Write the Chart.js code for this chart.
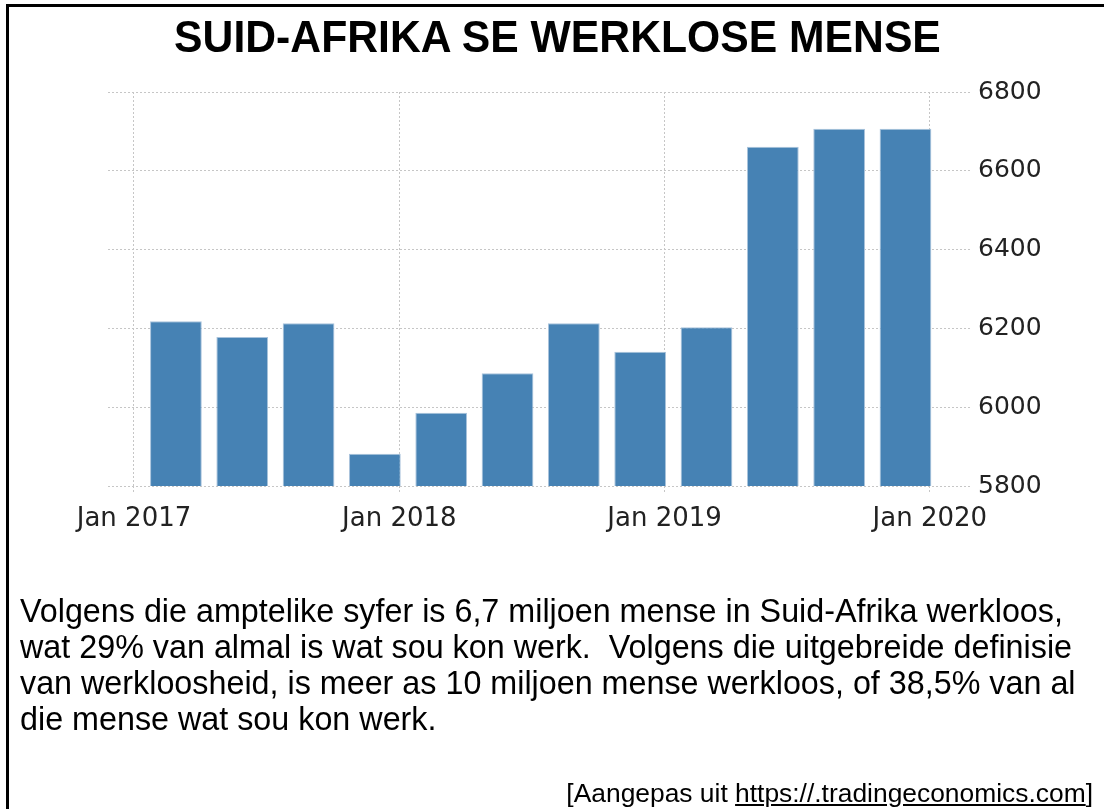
<!DOCTYPE html>
<html>
<head>
<meta charset="utf-8">
<script src="https://cdn.jsdelivr.net/npm/chart.js@4.4.1/dist/chart.umd.min.js"></script>
<style>
  html, body { margin: 0; padding: 0; background: #fff; }
  #wrap { position: relative; width: 1104px; height: 809px; overflow: hidden; background: #fff; }
  #chart { position: absolute; left: 0; top: 0; }
  .frameL { position: absolute; left: 6px; top: 4px; width: 3px; height: 805px; background: #000; }
  .frameT { position: absolute; left: 6px; top: 4px; width: 1098px; height: 3px; background: #000; }
  #title { position: absolute; left: 0; width: 1115px; top: 12px; text-align: center;
           font-family: "Liberation Sans", Arial, sans-serif; font-weight: bold; font-size: 44px;
           line-height: 50px; color: #000; white-space: nowrap;
           transform: scaleX(0.97); transform-origin: 557px 0; }
  #para { position: absolute; left: 20px; top: 593px; font-family: "Liberation Sans", Arial, sans-serif;
          font-size: 32.3px; line-height: 36px; color: #000; white-space: nowrap; }
  #src { position: absolute; right: 11px; top: 777px; font-family: "Liberation Sans", Arial, sans-serif;
         font-size: 26.4px; line-height: 32px; color: #000; white-space: nowrap; }
  #src span { text-decoration: underline; }
</style>
</head>
<body>
<div id="wrap">
  <canvas id="chart" width="1104" height="809"></canvas>
  <div class="frameL"></div>
  <div class="frameT"></div>
  <div id="title">SUID-AFRIKA SE WERKLOSE MENSE</div>
  <div id="para">Volgens die amptelike syfer is 6,7 miljoen mense in Suid-Afrika werkloos,<br>wat 29% van almal is wat sou kon werk.&nbsp; Volgens die uitgebreide definisie<br>van werkloosheid, is meer as 10 miljoen mense werkloos, of 38,5% van al<br>die mense wat sou kon werk.</div>
  <div id="src">[Aangepas uit <span>https://.tradingeconomics.com</span>]</div>
</div>
<script>
// ---- data ----
const categories = ['Q1 2017', 'Q2 2017', 'Q3 2017', 'Q4 2017',
                    'Q1 2018', 'Q2 2018', 'Q3 2018', 'Q4 2018',
                    'Q1 2019', 'Q2 2019', 'Q3 2019', 'Q4 2019'];
const unemployed = [6218, 6178, 6213, 5882, 5986, 6086, 6213, 6141, 6203, 6661, 6707, 6707];
const yTicks = [5800, 6000, 6200, 6400, 6600, 6800];
const xTickYears = [2017, 2018, 2019, 2020];
const xTickLabels = ['Jan 2017', 'Jan 2018', 'Jan 2019', 'Jan 2020'];

// quarter label -> position on a year axis
const BAR_OFFSET = 0.158;
function quarterPos(label) {
  const [q, y] = label.split(' ');
  return Number(y) + (Number(q.slice(1)) - 1) / 4 + BAR_OFFSET;
}
const points = categories.map((c, i) => ({ x: quarterPos(c), y: unemployed[i] }));

const gridColor = '#c6c6c6';
const yFont = { family: '"DejaVu Sans", Verdana, sans-serif', size: 25 };
const xFont = { family: '"DejaVu Sans", Verdana, sans-serif', size: 26 };

new Chart(document.getElementById('chart'), {
  type: 'bar',
  data: {
    datasets: [{
      label: 'Werklose mense',
      data: points,
      backgroundColor: '#4682b4',
      borderColor: '#a9c3dc',
      borderWidth: 1,
      barPercentage: 0.78,
      categoryPercentage: 1.0
    }]
  },
  options: {
    responsive: false,
    animation: false,
    layout: { padding: { left: 108, right: 33, top: 92, bottom: 272 } },
    plugins: { legend: { display: false }, tooltip: { enabled: false }, title: { display: false } },
    scales: {
      x: {
        type: 'linear',
        offset: false,
        min: 2016.902,
        max: 2020.155,
        afterBuildTicks: (s) => { s.ticks = xTickYears.map(v => ({ value: v })); },
        afterFit: (s) => { s.height = 51; },
        ticks: {
          font: xFont,
          color: '#222',
          padding: 12,
          maxRotation: 0,
          autoSkip: false,
          callback: (v) => xTickLabels[xTickYears.indexOf(v)]
        },
        grid: {
          offset: false,
          color: gridColor, lineWidth: 1, drawTicks: true, tickLength: 6,
          tickColor: gridColor, tickBorderDash: [2, 2]
        },
        border: { display: false, dash: [2, 2] }
      },
      y: {
        type: 'linear',
        position: 'right',
        min: yTicks[0],
        max: yTicks[yTicks.length - 1],
        afterBuildTicks: (s) => { s.ticks = yTicks.map(v => ({ value: v })); },
        afterFit: (s) => { s.width = 100; },
        ticks: { font: yFont, color: '#222', padding: 7, callback: (v) => String(v) },
        grid: { color: gridColor, lineWidth: 1, drawTicks: false },
        border: { display: false, dash: [2, 2] }
      }
    }
  }
});
</script>
</body>
</html>
